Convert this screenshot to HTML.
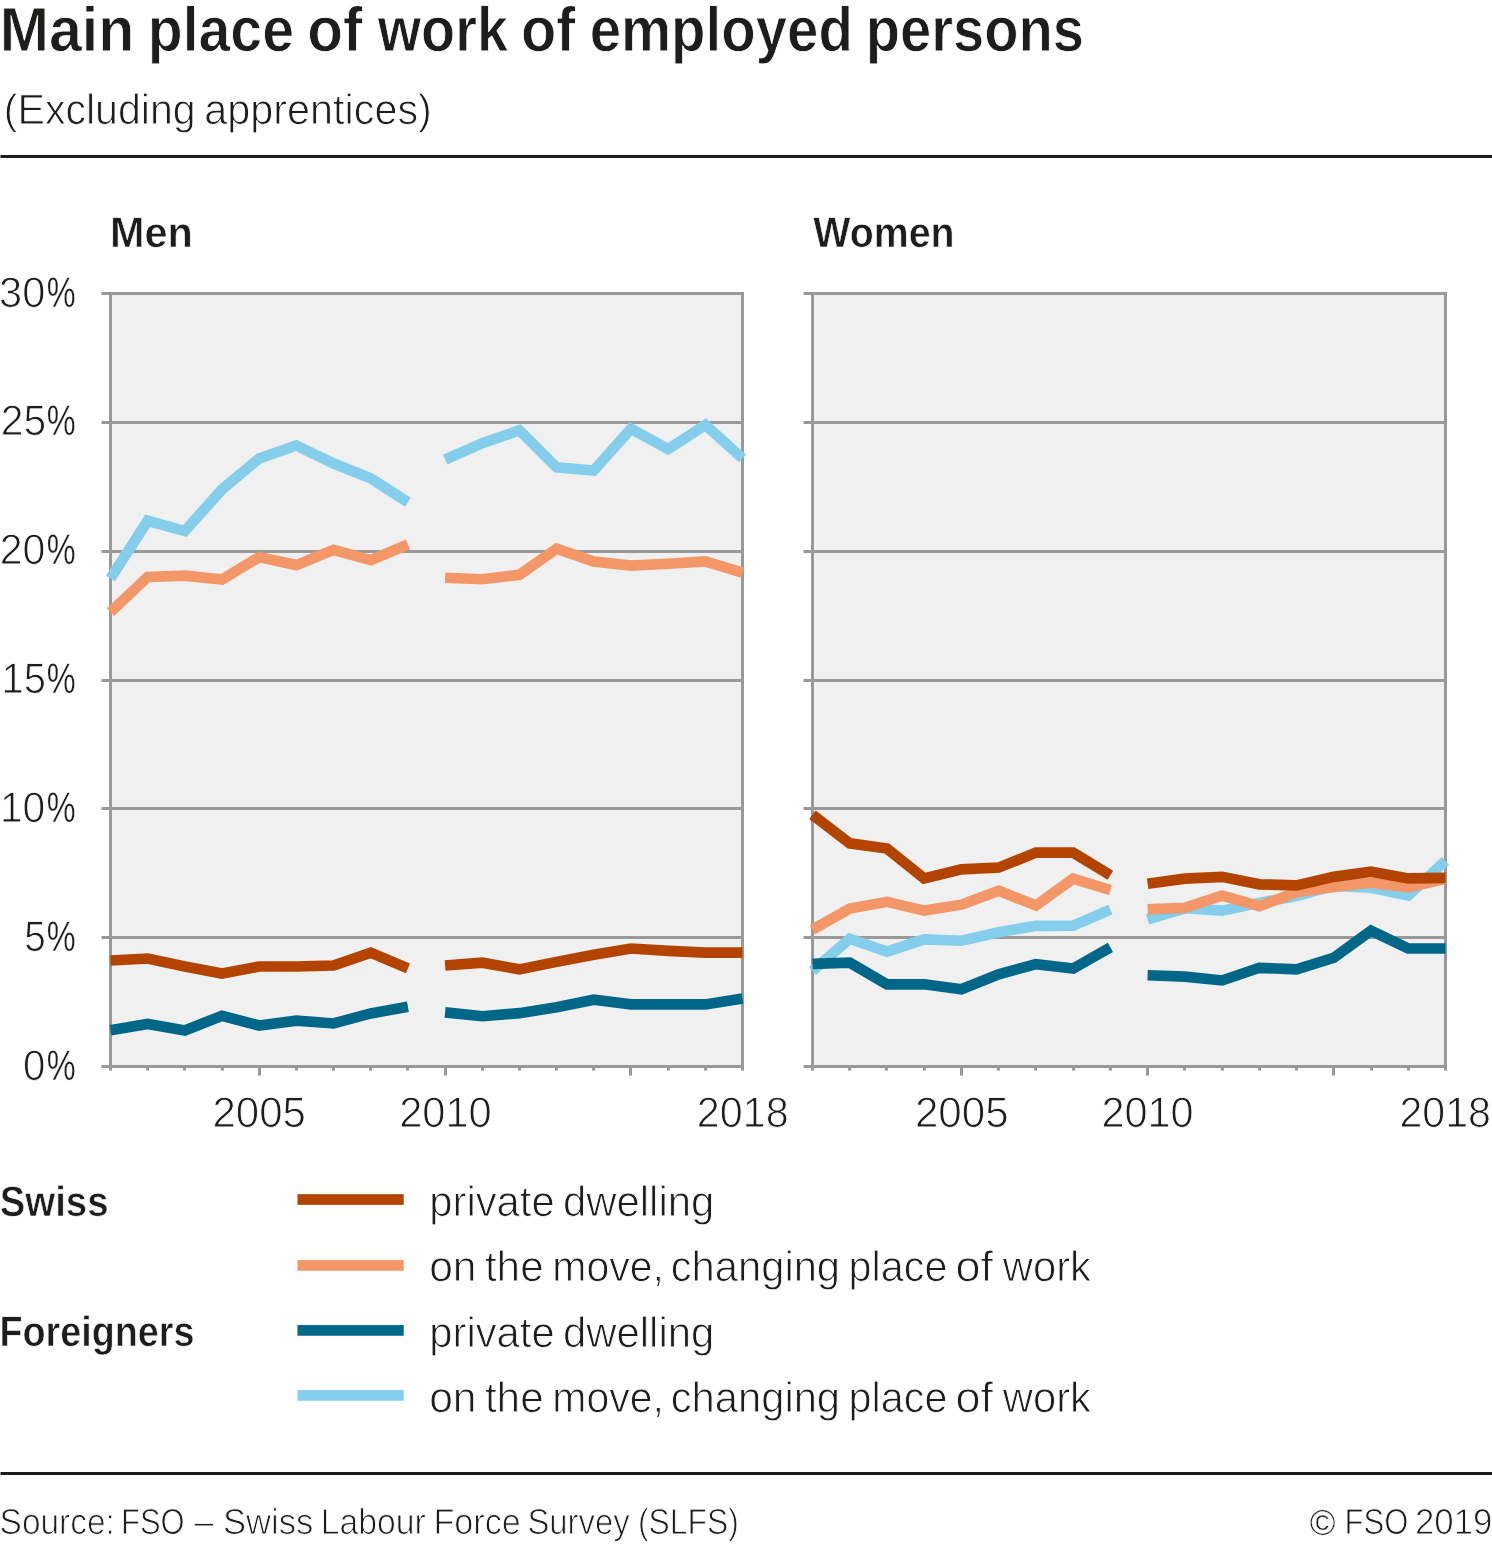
<!DOCTYPE html>
<html lang="en"><head><meta charset="utf-8">
<title>Main place of work of employed persons</title>
<style>
html,body{margin:0;padding:0;background:#fff;}
body{width:1492px;height:1544px;overflow:hidden;}
svg{display:block;}
text{font-family:"Liberation Sans",sans-serif;fill:#1d1d1b;stroke:#fff;stroke-linejoin:round;text-rendering:geometricPrecision;}
text.l{stroke-width:0.9;}
text.b{font-weight:bold;stroke-width:0.9;}
text.b2{stroke-width:0.6px;}
tspan.nt{stroke-width:0.35px;}
.series polyline{fill:none;stroke-width:10.67;stroke-linejoin:miter;stroke-linecap:butt;}
</style></head><body>
<svg width="1492" height="1544" viewBox="0 0 1492 1544" role="img" aria-label="Main place of work of employed persons">
<rect x="0" y="0" width="1492" height="1544" fill="#ffffff"/>
<rect x="0.5" y="155" width="1492" height="3" fill="#1d1d1b"/>
<rect x="0.5" y="1472" width="1492" height="3" fill="#1d1d1b"/>
<g>
<rect x="110.5" y="293.5" width="632.0" height="773.0" fill="#f0f0f0"/>
<rect x="101.5" y="1065" width="642.5" height="3" fill="#999999"/>
<rect x="101.5" y="936" width="642.5" height="3" fill="#999999"/>
<rect x="101.5" y="807" width="642.5" height="3" fill="#999999"/>
<rect x="101.5" y="679" width="642.5" height="3" fill="#999999"/>
<rect x="101.5" y="550" width="642.5" height="3" fill="#999999"/>
<rect x="101.5" y="421" width="642.5" height="3" fill="#999999"/>
<rect x="101.5" y="292" width="642.5" height="3" fill="#999999"/>
<rect x="109.0" y="292.0" width="3" height="776.0" fill="#999999"/>
<rect x="741.0" y="292.0" width="3" height="776.0" fill="#999999"/>
<rect x="109" y="1066.5" width="3" height="4.1" fill="#999999"/>
<rect x="146" y="1066.5" width="3" height="4.1" fill="#999999"/>
<rect x="183" y="1066.5" width="3" height="4.1" fill="#999999"/>
<rect x="221" y="1066.5" width="3" height="4.1" fill="#999999"/>
<rect x="258" y="1066.5" width="3" height="9.1" fill="#999999"/>
<rect x="295" y="1066.5" width="3" height="4.1" fill="#999999"/>
<rect x="332" y="1066.5" width="3" height="4.1" fill="#999999"/>
<rect x="369" y="1066.5" width="3" height="4.1" fill="#999999"/>
<rect x="406" y="1066.5" width="3" height="4.1" fill="#999999"/>
<rect x="444" y="1066.5" width="3" height="9.1" fill="#999999"/>
<rect x="481" y="1066.5" width="3" height="4.1" fill="#999999"/>
<rect x="518" y="1066.5" width="3" height="4.1" fill="#999999"/>
<rect x="555" y="1066.5" width="3" height="4.1" fill="#999999"/>
<rect x="592" y="1066.5" width="3" height="4.1" fill="#999999"/>
<rect x="629" y="1066.5" width="3" height="9.1" fill="#999999"/>
<rect x="667" y="1066.5" width="3" height="4.1" fill="#999999"/>
<rect x="704" y="1066.5" width="3" height="4.1" fill="#999999"/>
<rect x="741" y="1066.5" width="3" height="4.1" fill="#999999"/>
<g class="series">
<polyline points="110.50,578.48 147.68,520.76 184.85,531.07 222.03,489.33 259.21,458.41 296.38,445.52 333.56,463.56 370.74,478.25 407.91,502.21" stroke="#84ceeb"/>
<polyline points="445.09,459.70 482.26,443.20 519.44,430.32 556.62,467.43 593.79,470.52 630.97,428.77 668.15,449.13 705.32,424.91 742.50,458.41" stroke="#84ceeb"/>
<polyline points="110.50,1030.30 147.68,1023.99 184.85,1030.43 222.03,1015.74 259.21,1025.53 296.38,1020.64 333.56,1023.47 370.74,1013.42 407.91,1006.72" stroke="#006788"/>
<polyline points="445.09,1012.39 482.26,1016.25 519.44,1013.16 556.62,1007.24 593.79,999.76 630.97,1004.40 668.15,1004.40 705.32,1004.40 742.50,998.48" stroke="#006788"/>
<polyline points="110.50,612.23 147.68,576.93 184.85,575.64 222.03,579.51 259.21,557.09 296.38,565.08 333.56,549.88 370.74,560.19 407.91,544.47" stroke="#f39769"/>
<polyline points="445.09,577.71 482.26,579.25 519.44,574.87 556.62,548.59 593.79,561.47 630.97,565.60 668.15,563.79 705.32,561.47 742.50,572.55" stroke="#f39769"/>
<polyline points="110.50,960.47 147.68,958.54 184.85,966.53 222.03,973.48 259.21,966.53 296.38,966.53 333.56,965.49 370.74,952.61 407.91,968.33" stroke="#b24400"/>
<polyline points="445.09,965.49 482.26,962.66 519.44,969.36 556.62,961.89 593.79,954.67 630.97,948.49 668.15,950.81 705.32,952.61 742.50,952.61" stroke="#b24400"/>
</g>
</g>
<g>
<rect x="812.5" y="293.5" width="633.0" height="773.0" fill="#f0f0f0"/>
<rect x="803.5" y="1065" width="643.5" height="3" fill="#999999"/>
<rect x="803.5" y="936" width="643.5" height="3" fill="#999999"/>
<rect x="803.5" y="807" width="643.5" height="3" fill="#999999"/>
<rect x="803.5" y="679" width="643.5" height="3" fill="#999999"/>
<rect x="803.5" y="550" width="643.5" height="3" fill="#999999"/>
<rect x="803.5" y="421" width="643.5" height="3" fill="#999999"/>
<rect x="803.5" y="292" width="643.5" height="3" fill="#999999"/>
<rect x="811.0" y="292.0" width="3" height="776.0" fill="#999999"/>
<rect x="1444.0" y="292.0" width="3" height="776.0" fill="#999999"/>
<rect x="811" y="1066.5" width="3" height="4.1" fill="#999999"/>
<rect x="848" y="1066.5" width="3" height="4.1" fill="#999999"/>
<rect x="885" y="1066.5" width="3" height="4.1" fill="#999999"/>
<rect x="923" y="1066.5" width="3" height="4.1" fill="#999999"/>
<rect x="960" y="1066.5" width="3" height="9.1" fill="#999999"/>
<rect x="997" y="1066.5" width="3" height="4.1" fill="#999999"/>
<rect x="1034" y="1066.5" width="3" height="4.1" fill="#999999"/>
<rect x="1072" y="1066.5" width="3" height="4.1" fill="#999999"/>
<rect x="1109" y="1066.5" width="3" height="4.1" fill="#999999"/>
<rect x="1146" y="1066.5" width="3" height="9.1" fill="#999999"/>
<rect x="1183" y="1066.5" width="3" height="4.1" fill="#999999"/>
<rect x="1221" y="1066.5" width="3" height="4.1" fill="#999999"/>
<rect x="1258" y="1066.5" width="3" height="4.1" fill="#999999"/>
<rect x="1295" y="1066.5" width="3" height="4.1" fill="#999999"/>
<rect x="1332" y="1066.5" width="3" height="9.1" fill="#999999"/>
<rect x="1370" y="1066.5" width="3" height="4.1" fill="#999999"/>
<rect x="1407" y="1066.5" width="3" height="4.1" fill="#999999"/>
<rect x="1444" y="1066.5" width="3" height="4.1" fill="#999999"/>
<g class="series">
<polyline points="812.50,970.91 849.74,938.70 886.97,951.58 924.21,939.47 961.44,940.76 998.68,932.26 1035.91,925.81 1073.15,925.56 1110.38,909.58" stroke="#84ceeb"/>
<polyline points="1147.62,919.37 1184.85,908.29 1222.09,910.61 1259.32,902.88 1296.56,895.92 1333.79,885.88 1371.03,887.68 1408.26,895.41 1445.50,860.88" stroke="#84ceeb"/>
<polyline points="812.50,963.95 849.74,962.66 886.97,984.30 924.21,984.30 961.44,989.20 998.68,974.26 1035.91,964.21 1073.15,968.59 1110.38,947.46" stroke="#006788"/>
<polyline points="1147.62,975.29 1184.85,976.57 1222.09,980.44 1259.32,967.81 1296.56,969.36 1333.79,957.76 1371.03,930.71 1408.26,948.49 1445.50,948.49" stroke="#006788"/>
<polyline points="812.50,929.68 849.74,908.55 886.97,901.85 924.21,910.61 961.44,904.69 998.68,890.77 1035.91,905.46 1073.15,878.66 1110.38,890.00" stroke="#f39769"/>
<polyline points="1147.62,909.32 1184.85,907.78 1222.09,895.67 1259.32,906.23 1296.56,892.32 1333.79,886.91 1371.03,882.78 1408.26,887.42 1445.50,878.92" stroke="#f39769"/>
<polyline points="812.50,814.76 849.74,843.36 886.97,848.51 924.21,878.40 961.44,869.38 998.68,867.58 1035.91,852.64 1073.15,852.64 1110.38,875.31" stroke="#b24400"/>
<polyline points="1147.62,883.81 1184.85,878.66 1222.09,876.86 1259.32,884.33 1296.56,885.36 1333.79,876.86 1371.03,871.70 1408.26,878.40 1445.50,877.89" stroke="#b24400"/>
</g>
</g>
<rect x="297.5" y="1194.17" width="106.2" height="10.67" fill="#b24400"/>
<rect x="297.5" y="1260.07" width="106.2" height="10.67" fill="#f39769"/>
<rect x="297.5" y="1325.07" width="106.2" height="10.67" fill="#006788"/>
<rect x="297.5" y="1390.07" width="106.2" height="10.67" fill="#84ceeb"/>
<text id="title" class="b t" y="51.00" font-size="62.6"><tspan x="-0.31" textLength="134.54" lengthAdjust="spacingAndGlyphs">Main</tspan> <tspan x="147.75" textLength="146.18" lengthAdjust="spacingAndGlyphs">place</tspan> <tspan x="307.25" textLength="55.25" lengthAdjust="spacingAndGlyphs">of</tspan> <tspan x="377.76" textLength="130.14" lengthAdjust="spacingAndGlyphs">work</tspan> <tspan x="520.94" textLength="54.48" lengthAdjust="spacingAndGlyphs">of</tspan> <tspan x="589.63" textLength="263.20" lengthAdjust="spacingAndGlyphs">employed</tspan> <tspan x="865.75" textLength="218.31" lengthAdjust="spacingAndGlyphs">persons</tspan></text>
<text id="sub" class="l" y="124.00" font-size="42.6"><tspan x="3.81" textLength="191.84" lengthAdjust="spacingAndGlyphs">(Excluding</tspan> <tspan x="204.35" textLength="227.48" lengthAdjust="spacingAndGlyphs">apprentices)</tspan></text>
<text id="men" class="b b2" y="247.00" font-size="42.5"><tspan x="110.00" textLength="82.88" lengthAdjust="spacingAndGlyphs">Men</tspan></text>
<text id="women" class="b b2" y="247.00" font-size="42.5"><tspan x="813.31" textLength="141.21" lengthAdjust="spacingAndGlyphs">Women</tspan></text>
<text id="y30" class="l" y="307.00" font-size="42.7"><tspan x="-0.98" textLength="46.21" lengthAdjust="spacingAndGlyphs">30</tspan><tspan x="46.66" class="nt" textLength="28.87" lengthAdjust="spacingAndGlyphs">%</tspan></text>
<text id="y25" class="l" y="435.00" font-size="42.7"><tspan x="0.75" textLength="45.41" lengthAdjust="spacingAndGlyphs">25</tspan><tspan x="46.66" class="nt" textLength="28.87" lengthAdjust="spacingAndGlyphs">%</tspan></text>
<text id="y20" class="l" y="564.00" font-size="42.7"><tspan x="-0.30" textLength="45.61" lengthAdjust="spacingAndGlyphs">20</tspan><tspan x="46.66" class="nt" textLength="28.87" lengthAdjust="spacingAndGlyphs">%</tspan></text>
<text id="y15" class="l" y="693.00" font-size="42.7"><tspan x="1.41" textLength="44.49" lengthAdjust="spacingAndGlyphs">15</tspan><tspan x="46.64" class="nt" textLength="28.87" lengthAdjust="spacingAndGlyphs">%</tspan></text>
<text id="y10" class="l" y="822.00" font-size="42.7"><tspan x="-0.12" textLength="45.37" lengthAdjust="spacingAndGlyphs">10</tspan><tspan x="46.64" class="nt" textLength="28.87" lengthAdjust="spacingAndGlyphs">%</tspan></text>
<text id="y5" class="l" y="951.00" font-size="42.7"><tspan x="24.28" textLength="21.51" lengthAdjust="spacingAndGlyphs">5</tspan><tspan x="46.64" class="nt" textLength="28.87" lengthAdjust="spacingAndGlyphs">%</tspan></text>
<text id="y0" class="l" y="1080.00" font-size="42.7"><tspan x="23.00" textLength="22.32" lengthAdjust="spacingAndGlyphs">0</tspan><tspan x="46.66" class="nt" textLength="28.87" lengthAdjust="spacingAndGlyphs">%</tspan></text>
<text id="xl1" class="l" y="1127.00" font-size="42.7"><tspan x="212.44" textLength="93.40" lengthAdjust="spacingAndGlyphs">2005</tspan></text>
<text id="xl2" class="l" y="1127.00" font-size="42.7"><tspan x="399.14" textLength="92.64" lengthAdjust="spacingAndGlyphs">2010</tspan></text>
<text id="xl3" class="l" y="1127.00" font-size="42.7"><tspan x="696.80" textLength="91.83" lengthAdjust="spacingAndGlyphs">2018</tspan></text>
<text id="xr1" class="l" y="1127.00" font-size="42.7"><tspan x="914.96" textLength="93.66" lengthAdjust="spacingAndGlyphs">2005</tspan></text>
<text id="xr2" class="l" y="1127.00" font-size="42.7"><tspan x="1101.53" textLength="92.05" lengthAdjust="spacingAndGlyphs">2010</tspan></text>
<text id="xr3" class="l" y="1127.00" font-size="42.7"><tspan x="1399.48" textLength="91.49" lengthAdjust="spacingAndGlyphs">2018</tspan></text>
<text id="swiss" class="b b2" y="1216.00" font-size="42.5"><tspan x="-0.24" textLength="108.78" lengthAdjust="spacingAndGlyphs">Swiss</tspan></text>
<text id="foreign" class="b b2" y="1346.00" font-size="42.5"><tspan x="-0.52" textLength="194.89" lengthAdjust="spacingAndGlyphs">Foreigners</tspan></text>
<text id="lg1" class="l" y="1216.00" font-size="42.6"><tspan x="429.32" textLength="125.32" lengthAdjust="spacingAndGlyphs">private</tspan> <tspan x="562.94" textLength="151.42" lengthAdjust="spacingAndGlyphs">dwelling</tspan></text>
<text id="lg2" class="l" y="1281.00" font-size="42.6"><tspan x="429.18" textLength="47.37" lengthAdjust="spacingAndGlyphs">on</tspan> <tspan x="484.88" textLength="58.77" lengthAdjust="spacingAndGlyphs">the</tspan> <tspan x="552.25" textLength="111.61" lengthAdjust="spacingAndGlyphs">move,</tspan> <tspan x="670.75" textLength="169.30" lengthAdjust="spacingAndGlyphs">changing</tspan> <tspan x="848.60" textLength="98.83" lengthAdjust="spacingAndGlyphs">place</tspan> <tspan x="955.40" textLength="37.51" lengthAdjust="spacingAndGlyphs">of</tspan> <tspan x="1002.75" textLength="88.21" lengthAdjust="spacingAndGlyphs">work</tspan></text>
<text id="lg3" class="l" y="1347.00" font-size="42.6"><tspan x="429.32" textLength="125.32" lengthAdjust="spacingAndGlyphs">private</tspan> <tspan x="562.94" textLength="151.42" lengthAdjust="spacingAndGlyphs">dwelling</tspan></text>
<text id="lg4" class="l" y="1412.00" font-size="42.6"><tspan x="429.18" textLength="47.37" lengthAdjust="spacingAndGlyphs">on</tspan> <tspan x="484.88" textLength="58.77" lengthAdjust="spacingAndGlyphs">the</tspan> <tspan x="552.25" textLength="111.61" lengthAdjust="spacingAndGlyphs">move,</tspan> <tspan x="670.75" textLength="169.30" lengthAdjust="spacingAndGlyphs">changing</tspan> <tspan x="848.60" textLength="98.83" lengthAdjust="spacingAndGlyphs">place</tspan> <tspan x="955.40" textLength="37.51" lengthAdjust="spacingAndGlyphs">of</tspan> <tspan x="1002.75" textLength="88.21" lengthAdjust="spacingAndGlyphs">work</tspan></text>
<text id="src" class="l" y="1534.00" font-size="36.1"><tspan x="-0.45" textLength="115.32" lengthAdjust="spacingAndGlyphs">Source:</tspan> <tspan x="121.00" textLength="63.57" lengthAdjust="spacingAndGlyphs">FSO</tspan> <tspan x="194.30" textLength="19.37" lengthAdjust="spacingAndGlyphs">–</tspan> <tspan x="222.89" textLength="90.36" lengthAdjust="spacingAndGlyphs">Swiss</tspan> <tspan x="320.75" textLength="105.05" lengthAdjust="spacingAndGlyphs">Labour</tspan> <tspan x="433.40" textLength="87.38" lengthAdjust="spacingAndGlyphs">Force</tspan> <tspan x="527.39" textLength="102.20" lengthAdjust="spacingAndGlyphs">Survey</tspan> <tspan x="638.02" textLength="100.84" lengthAdjust="spacingAndGlyphs">(SLFS)</tspan></text>
<text id="copy" class="l" y="1534.00" font-size="36.1"><tspan x="1309.66" dy="1" class="nt" textLength="25.77" lengthAdjust="spacingAndGlyphs">©</tspan> <tspan x="1344.49" dy="-1" textLength="63.85" lengthAdjust="spacingAndGlyphs">FSO</tspan> <tspan x="1414.95" textLength="77.42" lengthAdjust="spacingAndGlyphs">2019</tspan></text>
</svg>
</body></html>
